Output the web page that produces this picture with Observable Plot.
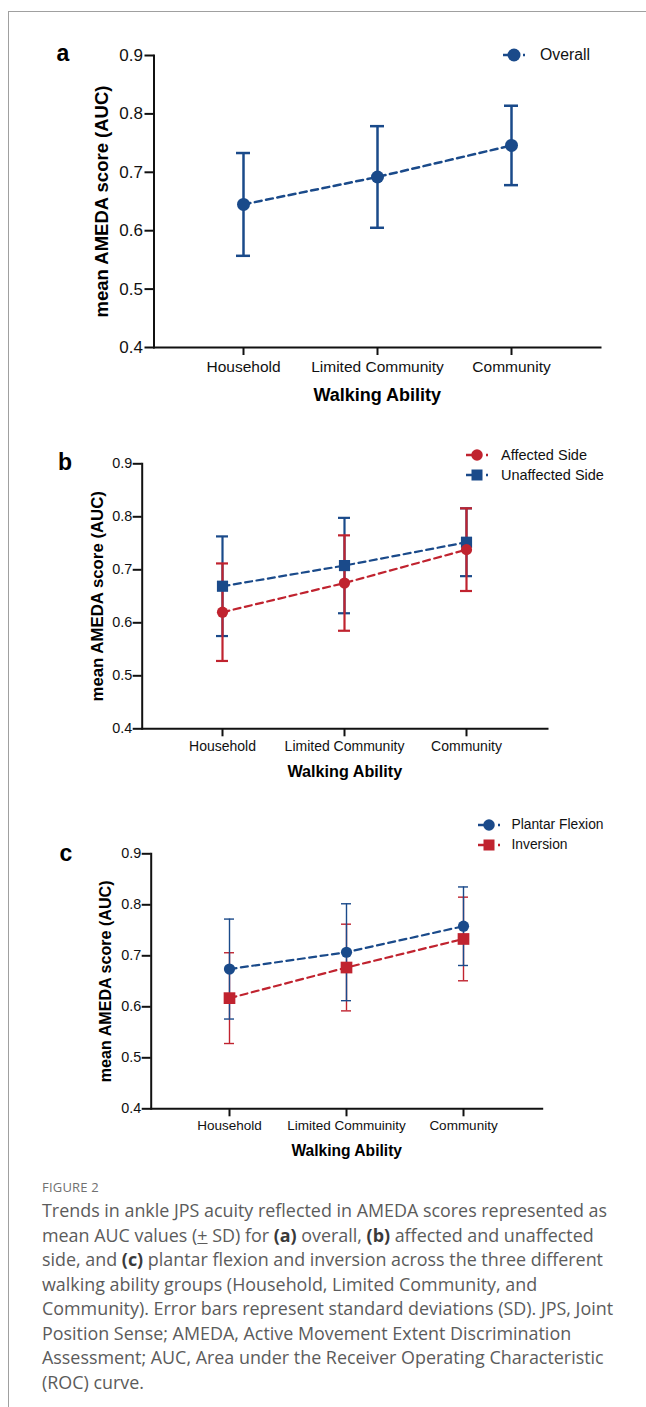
<!DOCTYPE html>
<html>
<head>
<meta charset="utf-8">
<script src="https://cdn.jsdelivr.net/npm/d3@7"></script>
<script src="https://cdn.jsdelivr.net/npm/@observablehq/plot@0.6"></script>
<style>
  html, body { margin: 0; padding: 0; background: #fff; width: 646px; height: 1407px; overflow: hidden; position: relative; }
  .abs { position: absolute; }
  .panel svg { overflow: visible; }
  .letter { font-family: "Liberation Sans", Arial, sans-serif; font-weight: bold; font-size: 23px; color: #000; line-height: 1; transform: translate(-50%, -50%); }
  .leg { font-family: "Liberation Sans", Arial, sans-serif; color: #111; white-space: nowrap; line-height: 1; }
  .caption { font-family: "Open Sans", "Noto Sans", sans-serif; color: #5b5b5b; }
</style>
</head>
<body>
<div class="abs" style="left:8px; top:11px; width:700px; height:1395px; border-top:1px solid #a0a0a0; border-left:1px solid #a0a0a0;"></div>
<div id="root"></div>
<script>
// ---------- data ----------
const groups = ["Household", "Limited Community", "Community"];
const groupsC = ["Household", "Limited Commuinity", "Community"];
const yTicks = [0.4, 0.5, 0.6, 0.7, 0.8, 0.9];
const xTitle = "Walking Ability";
const yTitle = "mean AMEDA score (AUC)";

const overallMean = [0.645, 0.692, 0.746];
const overallSD   = [0.088, 0.087, 0.068];

const affectedMean   = [0.620, 0.675, 0.738];
const affectedSD     = [0.092, 0.090, 0.078];
const unaffectedMean = [0.669, 0.708, 0.752];
const unaffectedSD   = [0.094, 0.090, 0.064];

const plantarMean   = [0.674, 0.707, 0.758];
const plantarSD     = [0.098, 0.095, 0.077];
const inversionMean = [0.617, 0.677, 0.733];
const inversionSD   = [0.089, 0.085, 0.082];

const BLUE = "#1a4a8a";
const RED = "#c0232f";
const FONT = "'Liberation Sans', Arial, sans-serif";

function rows(cats, mean, sd) {
  return cats.map((g, i) => ({group: g, mean: mean[i], lo: mean[i] - sd[i], hi: mean[i] + sd[i]}));
}

const root = document.getElementById("root");

function panel(cfg) {
  const marks = [];
  // error bars
  for (const s of cfg.barOrder) {
    marks.push(Plot.ruleX(s.data, {x: "group", y1: "lo", y2: "hi", stroke: s.color, strokeWidth: cfg.barWidth}));
    for (const k of ["lo", "hi"]) {
      marks.push(Plot.ruleY(s.data, {x1: "group", x2: "group", y: k, stroke: s.color, strokeWidth: cfg.barWidth,
        insetLeft: -cfg.cap, insetRight: -cfg.cap}));
    }
  }
  for (const s of cfg.lineOrder) {
    marks.push(Plot.line(s.data, {x: "group", y: "mean", stroke: s.color, strokeWidth: cfg.lineWidth, strokeDasharray: "7,4.5"}));
  }
  for (const s of cfg.dotOrder) {
    marks.push(Plot.dot(s.data, {x: "group", y: "mean", fill: s.color, stroke: "none", symbol: s.symbol, r: s.symbol === "square" ? cfg.sq : cfg.r}));
  }
  marks.push(Plot.frame({anchor: "left", strokeWidth: 2, stroke: "#111"}));
  marks.push(Plot.frame({anchor: "bottom", strokeWidth: 2, stroke: "#111"}));
  marks.push(Plot.axisY({ticks: yTicks, tickFormat: d3.format(".1f"), tickSize: 9, tickPadding: cfg.yPad,
    fontSize: cfg.tickFont, strokeWidth: 2, stroke: "#111", fill: "#111", label: null}));
  marks.push(Plot.axisX({tickSize: 8, tickPadding: cfg.xPad, fontSize: cfg.catFont, strokeWidth: 2, stroke: "#111", fill: "#111", label: null}));
  marks.push(Plot.text([xTitle], {frameAnchor: "bottom", dy: cfg.xTitleDy, text: d => d, fontWeight: "bold",
    fontSize: cfg.titleFont, lineAnchor: "middle", textAnchor: "middle", fill: "#000"}));
  marks.push(Plot.text([yTitle], {frameAnchor: "left", dx: cfg.yTitleDx, text: d => d, rotate: -90, fontWeight: "bold",
    fontSize: cfg.yTitleFont, lineAnchor: "middle", textAnchor: "middle", fill: "#000"}));

  const chart = Plot.plot({
    width: 646,
    height: cfg.height,
    marginTop: cfg.mt, marginBottom: cfg.mb, marginLeft: cfg.ml, marginRight: cfg.mr,
    x: {type: "point", domain: cfg.cats, padding: 0.66, axis: null},
    y: {domain: [0.4, 0.9], axis: null},
    style: {fontFamily: FONT, background: "transparent", color: "#111", overflow: "visible"},
    marks
  });
  const wrap = document.createElement("div");
  wrap.className = "abs panel";
  wrap.style.left = "0px";
  wrap.style.top = cfg.top + "px";
  wrap.appendChild(chart);
  root.appendChild(wrap);
}

function letter(t, x, y) {
  const d = document.createElement("div");
  d.className = "abs letter";
  d.style.left = x + "px"; d.style.top = y + "px";
  d.textContent = t;
  root.appendChild(d);
}

function legendItem(cx, cy, tx, label, color, symbol, size, fontSize) {
  const ns = "http://www.w3.org/2000/svg";
  const svg = document.createElementNS(ns, "svg");
  svg.setAttribute("width", 30); svg.setAttribute("height", 20);
  svg.style.position = "absolute";
  svg.style.left = (cx - 15) + "px"; svg.style.top = (cy - 10) + "px";
  const l1 = document.createElementNS(ns, "line");
  l1.setAttribute("x1", 4); l1.setAttribute("x2", 11); l1.setAttribute("y1", 10); l1.setAttribute("y2", 10);
  l1.setAttribute("stroke", color); l1.setAttribute("stroke-width", 2.5);
  svg.appendChild(l1);
  const l2 = document.createElementNS(ns, "line");
  l2.setAttribute("x1", 24); l2.setAttribute("x2", 26); l2.setAttribute("y1", 10); l2.setAttribute("y2", 10);
  l2.setAttribute("stroke", color); l2.setAttribute("stroke-width", 2.5);
  svg.appendChild(l2);
  let m;
  if (symbol === "square") {
    m = document.createElementNS(ns, "rect");
    m.setAttribute("x", 15 - size / 2); m.setAttribute("y", 10 - size / 2);
    m.setAttribute("width", size); m.setAttribute("height", size);
  } else {
    m = document.createElementNS(ns, "circle");
    m.setAttribute("cx", 15); m.setAttribute("cy", 10); m.setAttribute("r", size / 2);
  }
  m.setAttribute("fill", color);
  svg.appendChild(m);
  root.appendChild(svg);
  const t = document.createElement("div");
  t.className = "abs leg";
  t.style.left = tx + "px"; t.style.top = cy + "px";
  t.style.fontSize = fontSize + "px";
  t.style.transform = "translateY(-50%)";
  t.textContent = label;
  root.appendChild(t);
}

// ---------- panel a ----------
const sOverall = {data: rows(groups, overallMean, overallSD), color: BLUE, symbol: "circle"};
panel({
  top: 0, height: 420, mt: 55, mb: 73, ml: 153.5, mr: 46, cats: groups,
  barOrder: [sOverall], lineOrder: [sOverall], dotOrder: [sOverall],
  barWidth: 2.5, cap: 7, lineWidth: 2.5, r: 6.5, sq: 7,
  tickFont: 17, catFont: 15.5, titleFont: 18, yTitleFont: 18.5, yPad: 2, xPad: 5,
  xTitleDy: 48, yTitleDx: -52
});
letter("a", 63, 53);
legendItem(513.5, 55, 540, "Overall", BLUE, "circle", 13, 15.8);

// ---------- panel b ----------
const sAffected = {data: rows(groups, affectedMean, affectedSD), color: RED, symbol: "circle"};
const sUnaffected = {data: rows(groups, unaffectedMean, unaffectedSD), color: BLUE, symbol: "square"};
panel({
  top: 420, height: 380, mt: 43.3, mb: 71.7, ml: 141.7, mr: 99, cats: groups,
  barOrder: [sUnaffected, sAffected], lineOrder: [sUnaffected, sAffected], dotOrder: [sUnaffected, sAffected],
  barWidth: 2.2, cap: 6, lineWidth: 2.2, r: 5.6, sq: 6.3,
  tickFont: 14.4, catFont: 14, titleFont: 16.2, yTitleFont: 16.8, yPad: 1, xPad: 4,
  xTitleDy: 43.4, yTitleDx: -44.4
});
letter("b", 65, 462);
legendItem(477, 454.5, 501, "Affected Side", RED, "circle", 11.5, 14.5);
legendItem(477, 475, 501, "Unaffected Side", BLUE, "square", 11, 14.5);

// ---------- panel c ----------
const sPlantar = {data: rows(groupsC, plantarMean, plantarSD), color: BLUE, symbol: "circle"};
const sInversion = {data: rows(groupsC, inversionMean, inversionSD), color: RED, symbol: "square"};
panel({
  top: 800, height: 380, mt: 53.3, mb: 71.7, ml: 150.7, mr: 104.3, cats: groupsC,
  barOrder: [sInversion, sPlantar], lineOrder: [sPlantar, sInversion], dotOrder: [sInversion, sPlantar],
  barWidth: 1.4, cap: 5, lineWidth: 2.2, r: 5.6, sq: 6.6,
  tickFont: 14.4, catFont: 13.5, titleFont: 15.6, yTitleFont: 16.1, yPad: 1, xPad: 3.5,
  xTitleDy: 41.7, yTitleDx: -45.7
});
letter("c", 66, 853);
legendItem(489, 824.5, 511.5, "Plantar Flexion", BLUE, "circle", 11.5, 13.8);
legendItem(489, 844.5, 511.5, "Inversion", RED, "square", 11, 13.8);
</script>

<div class="abs caption" style="left:42px; top:1179px; font-size:13px; line-height:16px; color:#707070; letter-spacing:0.2px;">FIGURE 2</div>
<div class="abs caption" style="left:42px; top:1198px; font-size:17.9px; line-height:24.5px; white-space:nowrap;">
Trends in ankle JPS acuity reflected in AMEDA scores represented as<br>
mean AUC values (<u>+</u> SD) for <b style="color:#3a3a3a">(a)</b> overall, <b style="color:#3a3a3a">(b)</b> affected and unaffected<br>
side, and <b style="color:#3a3a3a">(c)</b> plantar flexion and inversion across the three different<br>
walking ability groups (Household, Limited Community, and<br>
Community). Error bars represent standard deviations (SD). JPS, Joint<br>
Position Sense; AMEDA, Active Movement Extent Discrimination<br>
Assessment; AUC, Area under the Receiver Operating Characteristic<br>
(ROC) curve.
</div>
</body>
</html>
